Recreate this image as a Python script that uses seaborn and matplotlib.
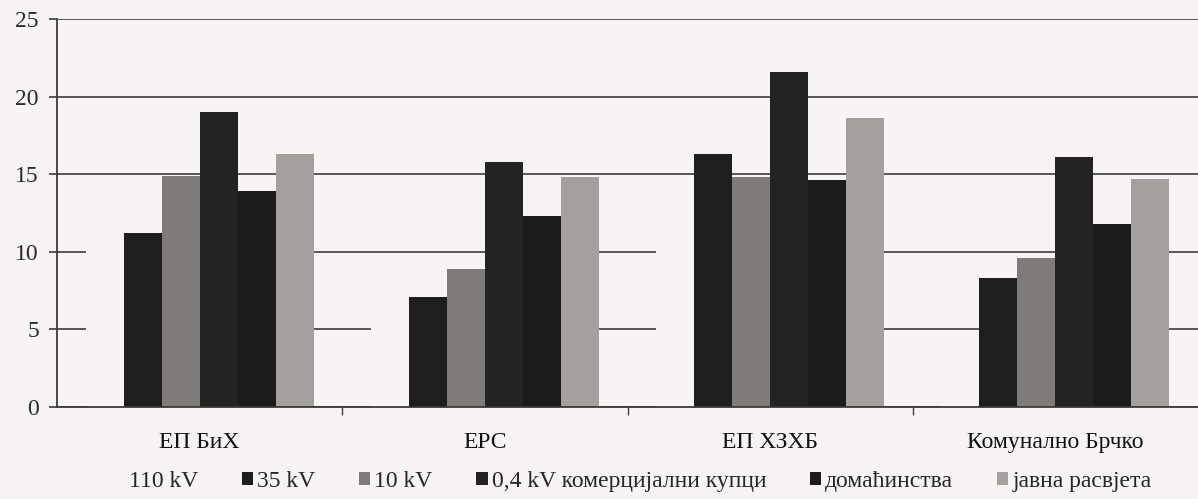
import pandas as pd
import matplotlib.pyplot as plt
import seaborn as sns
from matplotlib.ticker import FixedLocator

# values
companies = ['ЕП БиХ', 'ЕРС', 'ЕП ХЗХБ', 'Комунално Брчко']
series = ['110 kV', '35 kV', '10 kV', '0,4 kV комерцијални купци',
          'домаћинства', 'јавна расвјета']
kv110 = [12.5, 8.0, 13.0, 4.0]
kv35 = [11.2, 7.1, 16.3, 8.3]
kv10 = [14.9, 8.9, 14.8, 9.6]
kv04 = [19.0, 15.8, 21.6, 16.1]
households = [13.9, 12.3, 14.6, 11.8]
lighting = [16.3, 14.8, 18.6, 14.7]
yticks = [0, 5, 10, 15, 20, 25]

colors = ['#f8f4f6', '#1e1e1e', '#7f7b7b', '#232323', '#1b1b1b', '#a3a0a0']
bg = '#f8f4f6'

rows = []
for name, vals in zip(series, [kv110, kv35, kv10, kv04, households, lighting]):
    for c, v in zip(companies, vals):
        rows.append({'company': c, 'series': name, 'value': v})
df = pd.DataFrame(rows)

sns.set_theme(style='white')
plt.rcParams['font.family'] = ['Liberation Serif', 'DejaVu Serif']

fig = plt.figure(figsize=(11.98, 4.99), dpi=100, facecolor=bg)
ax = fig.add_axes([0.0476, 0.1844, 0.9524, 0.7776])
ax.set_facecolor(bg)

sns.barplot(data=df, x='company', y='value', hue='series', palette=colors,
            width=0.8, gap=0, linewidth=0, saturation=1, ax=ax, legend=True)

# white 110 kV bars cover the gridlines, as in the scan
ax.set_axisbelow(True)
ax.yaxis.grid(True, color='#4a4a4a', linewidth=1.3)
ax.set_ylim(0, 25)
ax.set_xlim(-0.5, 3.5)
ax.set_yticks(yticks)
ax.set_xlabel('')
ax.set_ylabel('')

for s in ['top', 'right']:
    ax.spines[s].set_visible(False)
for s in ['left', 'bottom']:
    ax.spines[s].set_color('#3a3a3a')
    ax.spines[s].set_linewidth(1.3)

ax.tick_params(axis='y', left=True, length=6, width=1.2, color='#3a3a3a',
               labelsize=17, pad=7, labelcolor='#2a2a2a')
ax.tick_params(axis='x', which='major', bottom=False, labelsize=17, pad=12,
               labelcolor='#111111')
ax.xaxis.set_minor_locator(FixedLocator([0.5, 1.5, 2.5]))
ax.tick_params(axis='x', which='minor', bottom=True, length=6, width=1.0,
               color='#3a3a3a')

handles, labels = ax.get_legend_handles_labels()
ax.get_legend().remove()
fig.legend(handles, labels, loc='center', bbox_to_anchor=(0.528, 0.036),
           ncol=6, frameon=False, fontsize=17, handlelength=0.47,
           handleheight=0.47, handletextpad=0.17, columnspacing=1.86)

fig.savefig('out.png', dpi=100, facecolor=bg)
